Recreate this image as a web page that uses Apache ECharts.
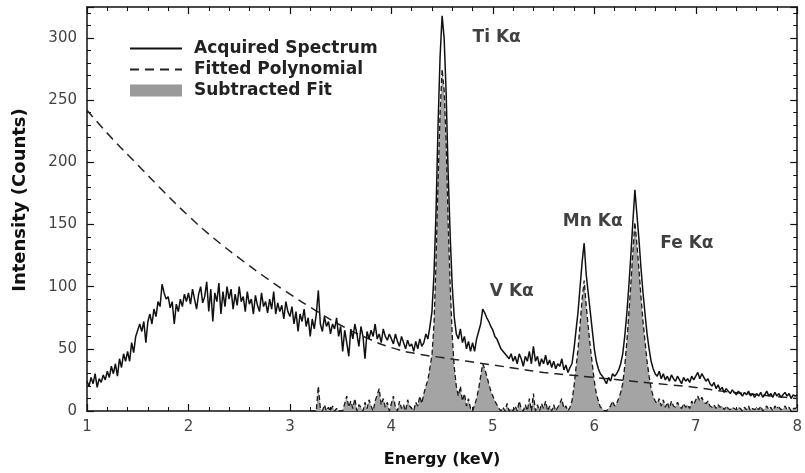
<!DOCTYPE html>
<html>
<head>
<meta charset="utf-8">
<script src="https://cdn.jsdelivr.net/npm/echarts@6/dist/echarts.min.js"></script>
<style>
html,body{margin:0;padding:0;background:#fff;}
#chart{width:805px;height:473px;}
</style>
</head>
<body>
<div id="chart"></div>
<script>
// ---- Data ----
var seriesNames = ['Acquired Spectrum', 'Fitted Polynomial', 'Subtracted Fit'];

// Acquired spectrum: channels from 1.00 keV every 0.02 keV
var spectrumStart = 1.00;
var spectrumStep = 0.02;
var spectrumCounts = [
  24, 20, 27, 22, 30, 19, 26, 23, 29, 25,
  32, 27, 36, 30, 38, 28, 42, 35, 46, 40,
  48, 40, 55, 47, 60, 65, 70, 64, 72, 55,
  72, 78, 70, 82, 76, 88, 84, 102, 95, 90,
  92, 83, 88, 70, 86, 80, 90, 84, 94, 88,
  95, 86, 98, 90, 82, 94, 100, 87, 92, 104,
  80, 98, 72, 95, 88, 103, 78, 96, 84, 100,
  90, 98, 82, 94, 85, 100, 88, 92, 80, 96,
  86, 90, 78, 93, 85, 80, 95, 84, 88, 79,
  90, 82, 96, 78, 87, 80, 85, 74, 88, 80,
  76, 84, 70, 80, 64, 78, 72, 82, 68, 75,
  60, 74, 66, 78, 97, 70, 64, 76, 68, 72,
  62, 70, 66, 75, 60, 68, 48, 65, 55, 44,
  66, 58, 70, 62, 52, 68, 60, 42, 64, 58,
  65, 60, 70, 58, 62, 55, 66, 60, 57, 62,
  58, 54, 62, 56, 52, 60, 55, 50, 57, 52,
  54, 48, 56, 50, 58, 52, 55, 62, 58, 68,
  80, 110, 160, 230, 285, 318, 300, 255, 190, 140,
  100, 75, 62, 58, 66, 55, 60, 50, 56, 48,
  55, 48, 58, 64, 70, 82, 79, 75, 72, 68,
  65, 60, 58, 54, 50, 48, 46, 44, 42, 46,
  40, 44, 38, 46, 42, 36, 44, 40, 48, 38,
  52, 40, 44, 36, 42, 38, 45, 37, 41, 35,
  40, 34, 38, 36, 42, 33, 37, 31, 35, 38,
  50, 65, 80, 100, 120, 135, 110, 95, 80, 65,
  50, 40, 34, 30, 28, 25, 22, 27, 24, 30,
  28, 30, 33, 38, 46, 60, 78, 100, 125, 152,
  178, 158, 138, 115, 95, 78, 62, 50, 40, 34,
  30, 28, 32, 26, 30, 25, 28, 24, 29, 26,
  24, 28, 25, 22, 27, 24, 26, 23, 28, 25,
  28, 31, 26, 30, 27, 24, 26, 22, 20, 23,
  18, 21, 17, 19, 15, 18, 16, 14, 17, 15,
  13, 16, 14, 12, 15, 13, 16, 12, 14, 11,
  14, 12, 15, 11, 13, 16, 12, 14, 11, 15,
  12, 14, 11, 13, 15, 12, 14, 10, 13, 12,
  13
];

// Fitted polynomial background, every 0.25 keV from 1.00
var polyEnergy = [1.00, 1.25, 1.50, 1.75, 2.00, 2.25, 2.50, 2.75, 3.00, 3.25, 3.50, 3.75, 4.00, 4.25, 4.50,
                  4.75, 5.00, 5.25, 5.50, 5.75, 6.00, 6.25, 6.50, 6.75, 7.00, 7.25, 7.50, 7.75, 8.00];
var polyCounts = [242, 219, 198, 177, 157, 139, 123, 108, 94, 81, 69, 59, 51, 46, 43,
                  40, 37, 34, 31, 29, 27, 25, 23, 21, 19, 16, 14, 12, 10];

// Subtracted fit: channels from 3.20 keV every 0.02 keV
var subtractedStart = 3.20;
var subtractedStep = 0.02;
var subtractedCounts = [
  0, 0, 0, 0, 20, 2, 0, 5, 0, 3,
  0, 4, 0, 2, 0, 0, 0, 6, 12, 3,
  8, 2, 10, 0, 5, 3, 0, 7, 2, 9,
  4, 0, 8, 13, 18, 5, 10, 3, 7, 0,
  6, 12, 3, 0, 8, 2, 5, 0, 9, 4,
  2, 0, 7, 4, 12, 6, 14, 20, 25, 35,
  45, 70, 120, 185, 240, 275, 258, 215, 150, 100,
  60, 35, 20, 12, 20, 8, 14, 4, 10, 2,
  0, 5, 10, 18, 28, 38, 34, 28, 22, 16,
  12, 8, 5, 2, 0, 3, 0, 6, 0, 2,
  0, 4, 0, 8, 2, 0, 5, 0, 10, 0,
  14, 0, 5, 0, 6, 2, 8, 0, 4, 0,
  5, 0, 3, 6, 10, 2, 4, 0, 3, 8,
  20, 35, 50, 70, 90, 105, 85, 68, 52, 38,
  24, 14, 8, 3, 2, 0, 0, 2, 4, 8,
  4, 6, 10, 15, 22, 36, 55, 78, 102, 128,
  152, 134, 114, 92, 72, 56, 40, 28, 18, 12,
  8, 6, 10, 4, 9, 3, 7, 2, 8, 4,
  3, 7, 4, 2, 6, 3, 5, 2, 8, 5,
  9, 12, 8, 11, 7, 6, 8, 4, 3, 5,
  2, 5, 3, 4, 1, 4, 2, 1, 3, 2,
  1, 3, 2, 0, 3, 1, 4, 0, 2, 1,
  3, 1, 4, 0, 2, 4, 1, 3, 0, 4,
  2, 3, 1, 2, 4, 1, 3, 0, 2, 2,
  3
];

// Peak annotations (label anchor in data coordinates)
var peakLabels = ['Ti K\u03b1', 'V K\u03b1', 'Mn K\u03b1', 'Fe K\u03b1'];
var peakLabelEnergy = [4.80, 4.97, 5.69, 6.65];
var peakLabelCounts = [300, 96, 152, 135];

var xTicks = [1, 2, 3, 4, 5, 6, 7, 8];
var yTicks = [0, 50, 100, 150, 200, 250, 300];

// ---- Build series data ----
function channels(start, step, counts) {
  return counts.map(function (c, i) { return [+(start + i * step).toFixed(2), c]; });
}
var spectrumData = channels(spectrumStart, spectrumStep, spectrumCounts);
var subtractedData = channels(subtractedStart, subtractedStep, subtractedCounts);
var polyData = polyEnergy.map(function (e, i) { return [e, polyCounts[i]]; });
var labelData = peakLabels.map(function (n, i) { return { name: n, value: [peakLabelEnergy[i], peakLabelCounts[i]] }; });

var FONT = '"DejaVu Sans", "Liberation Sans", Arial, sans-serif';
var AX = '#111';

function xAxisCfg(pos, showLabel) {
  return {
    type: 'value', position: pos, min: xTicks[0], max: xTicks[xTicks.length - 1], interval: 1,
    axisLine: { show: true, onZero: false, lineStyle: { color: AX, width: 1.5 } },
    axisTick: { show: true, inside: true, length: 7, lineStyle: { color: AX, width: 1.2 } },
    minorTick: { show: true, splitNumber: 5, length: 4, lineStyle: { color: AX, width: 1 } },
    splitLine: { show: false },
    axisLabel: { show: showLabel, color: '#444', fontFamily: FONT, fontSize: 15, margin: 9 },
    name: showLabel ? 'Energy (keV)' : '',
    nameLocation: 'middle', nameGap: 41,
    nameTextStyle: { color: '#111', fontFamily: FONT, fontSize: 16, fontWeight: 'bold' }
  };
}
function yAxisCfg(pos, showLabel) {
  return {
    type: 'value', position: pos, min: 0, max: 325, interval: 50,
    axisLine: { show: true, onZero: false, lineStyle: { color: AX, width: 1.5 } },
    axisTick: { show: true, inside: true, length: 7, lineStyle: { color: AX, width: 1.2 } },
    minorTick: { show: true, splitNumber: 5, length: 4, lineStyle: { color: AX, width: 1 } },
    splitLine: { show: false },
    axisLabel: {
      show: showLabel, color: '#444', fontFamily: FONT, fontSize: 15, margin: 10, showMaxLabel: false,
      formatter: function (v) { return yTicks.indexOf(v) >= 0 ? String(v) : ''; }
    },
    name: showLabel ? 'Intensity (Counts)' : '',
    nameLocation: 'middle', nameGap: 58, nameRotate: 90,
    nameTextStyle: { color: '#111', fontFamily: FONT, fontSize: 18, fontWeight: 'bold', padding: [0, 0, 0, 18] }
  };
}

var chart = echarts.init(document.getElementById('chart'), null, { renderer: 'canvas' });
chart.setOption({
  animation: false,
  backgroundColor: '#ffffff',
  grid: { left: 87, right: 5, top: 7, bottom: 60, containLabel: false },
  legend: {
    orient: 'vertical', left: 124, top: 35,
    itemWidth: 52, itemHeight: 12, itemGap: 4,
    textStyle: { color: '#222', fontFamily: FONT, fontSize: 17, fontWeight: 'bold', padding: [0, 0, 0, 7] },
    data: [
      { name: seriesNames[0], itemStyle: { opacity: 0 } },
      { name: seriesNames[1], itemStyle: { opacity: 0 } },
      { name: seriesNames[2], icon: 'rect', itemStyle: { color: '#9a9a9a', borderWidth: 0 } }
    ]
  },
  xAxis: [xAxisCfg('bottom', true), xAxisCfg('top', false)],
  yAxis: [yAxisCfg('left', true), yAxisCfg('right', false)],
  series: [
    {
      name: seriesNames[2], type: 'line', data: subtractedData, showSymbol: false, symbol: 'none',
      itemStyle: { color: '#9a9a9a' },
      lineStyle: { color: '#1a1a1a', width: 1.3, type: [5, 3] },
      areaStyle: { color: '#a4a4a4', opacity: 1 },
      z: 2
    },
    {
      name: seriesNames[1], type: 'line', data: polyData, smooth: true, showSymbol: false, symbol: 'none',
      itemStyle: { color: '#222' },
      lineStyle: { color: '#222', width: 1.5, type: [9, 6] },
      z: 3
    },
    {
      name: seriesNames[0], type: 'line', data: spectrumData, showSymbol: false, symbol: 'none',
      itemStyle: { color: '#111' },
      lineStyle: { color: '#111', width: 1.5 },
      z: 4
    },
    {
      name: 'labels', type: 'scatter', data: labelData, symbolSize: 0, silent: true,
      label: {
        show: true, position: 'right', distance: 0, formatter: '{b}',
        color: '#111', fontFamily: FONT, fontSize: 17, fontWeight: 'bold'
      },
      z: 5
    }
  ]
});
</script>
</body>
</html>
